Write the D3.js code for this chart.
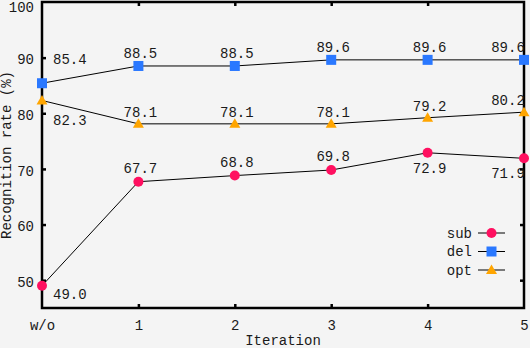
<!DOCTYPE html>
<html>
<head>
<meta charset="utf-8">
<script src="https://cdn.jsdelivr.net/npm/d3@7"></script>
<style>
html,body{margin:0;padding:0;background:#f4f4f4;}
svg{display:block;}
text{font-family:"Nimbus Mono PS","Courier New",Courier,"Liberation Mono",monospace;font-size:14px;fill:#1a1a1a;}
</style>
</head>
<body>
<script>
const categories = ["w/o","1","2","3","4","5"];
const subValues = [49.0, 67.7, 68.8, 69.8, 72.9, 71.9];
const delValues = [85.4, 88.5, 88.5, 89.6, 89.6, 89.6];
const optValues = [82.3, 78.1, 78.1, 78.1, 79.2, 80.2];
const yTicks = [50, 60, 70, 80, 90, 100];
const seriesNames = ["sub","del","opt"];
// label placement per point: "a" above, "b" below, "ar" above-right, "br" below-right
const subPlace = ["br","a","a","a","b","b"];
const delPlace = ["ar","a","a","a","a","a"];
const optPlace = ["br","a","a","a","a","a"];

(function(){
const W = 530, H = 348;
const FONT = '"Nimbus Mono PS","Courier New",Courier,"Liberation Mono",monospace';
const svg = d3.select("body").append("svg").attr("width", W).attr("height", H);
const mLeft = 42, mRight = 524, mTop = 2, mBottom = 308;

const x = d3.scalePoint().domain(categories).range([mLeft, mRight]);
const y = d3.scaleLinear().domain([45, 100]).range([mBottom, mTop]);

// frame
svg.append("rect").attr("x", mLeft).attr("y", mTop).attr("width", mRight-mLeft).attr("height", mBottom-mTop)
  .attr("fill","none").attr("stroke","#000").attr("stroke-width",2.5);

// axes (ticks inward)
const gy = svg.append("g").attr("transform",`translate(${mLeft},0)`).call(d3.axisLeft(y).tickValues(yTicks).tickSize(-4).tickPadding(8));
const gyr = svg.append("g").attr("transform",`translate(${mRight},0)`).call(d3.axisRight(y).tickValues(yTicks).tickSize(-4).tickFormat(""));
const gx = svg.append("g").attr("transform",`translate(0,${mBottom})`).call(d3.axisBottom(x).tickSize(-4).tickPadding(12));
const gxt = svg.append("g").attr("transform",`translate(0,${mTop})`).call(d3.axisTop(x).tickSize(-4).tickFormat(""));
[gy,gyr,gx,gxt].forEach(g=>{
  g.select(".domain").remove();
  g.selectAll(".tick line").attr("stroke","#000").attr("stroke-width",2.5);
  g.selectAll(".tick text").style("font-family",FONT).style("font-size","14px").attr("fill","#1a1a1a");
});
gy.selectAll(".tick text").attr("dy","0.45em");
gy.selectAll(".tick").filter(d=>d===100).select("text").attr("dy","0.7em");
gy.selectAll(".tick").filter(d=>d===100).select("line").remove();
gyr.selectAll(".tick").filter(d=>d===100).select("line").remove();
gx.selectAll(".tick").filter((d,i)=>i===0||i===categories.length-1).select("line").remove();
gxt.selectAll(".tick").filter((d,i)=>i===0||i===categories.length-1).select("line").remove();

// titles
svg.append("text").attr("x",(mLeft+mRight)/2).attr("y",345).attr("text-anchor","middle").text("Iteration");
svg.append("text").attr("transform",`translate(11,${(mTop+mBottom)/2}) rotate(-90)`).attr("text-anchor","middle").text("Recognition rate (%)");

const colors = {sub:"#ff1060", del:"#2a78ff", opt:"#ffa500"};
const series = [
  {name:"sub", values:subValues, place:subPlace, up:9, down:20},
  {name:"del", values:delValues, place:delPlace, up:8, down:20},
  {name:"opt", values:optValues, place:optPlace, up:7, down:20}
];

function marker(g, name, cx, cy){
  if(name==="sub"){
    g.append("circle").attr("cx",cx).attr("cy",cy).attr("r",5).attr("fill",colors.sub);
  } else if(name==="del"){
    g.append("rect").attr("x",cx-5).attr("y",cy-5).attr("width",10).attr("height",10).attr("fill",colors.del);
  } else {
    g.append("path").attr("d",`M${cx-5.5},${cy+4} L${cx+5.5},${cy+4} L${cx},${cy-5.5} Z`).attr("fill",colors.opt);
  }
}

const line = d3.line().x((d,i)=>x(categories[i])).y(d=>y(d));
series.forEach(s=>{
  svg.append("path").datum(s.values).attr("d",line).attr("fill","none").attr("stroke","#000").attr("stroke-width",1);
});
series.forEach(s=>{
  const g = svg.append("g");
  s.values.forEach((v,i)=>{
    const cx = x(categories[i]), cy = y(v);
    marker(g, s.name, cx, cy);
    const p = s.place[i];
    let tx = cx + 2, ty, anchor="middle";
    if(i === categories.length-1) tx = cx - 16;
    if(p==="a"){ ty = cy - s.up; }
    else if(p==="b"){ ty = cy + s.down; }
    else if(p==="ar"){ tx = cx + 11; ty = cy - 19; anchor="start"; }
    else { tx = cx + 11; ty = cy + (s.name==="sub" ? 13 : 25); anchor="start"; }
    g.append("text").attr("x",tx).attr("y",ty).attr("text-anchor",anchor).text(v.toFixed(1));
  });
});

// legend
const legend = svg.append("g");
seriesNames.forEach((n,i)=>{
  const ly = 233 + i*18.5;
  legend.append("text").attr("x",472).attr("y",ly+4.5).attr("text-anchor","end").text(n);
  legend.append("line").attr("x1",478).attr("x2",505).attr("y1",ly).attr("y2",ly).attr("stroke","#000").attr("stroke-width",1);
  marker(legend, n, 491.5, ly);
});
})();
</script>
</body>
</html>
